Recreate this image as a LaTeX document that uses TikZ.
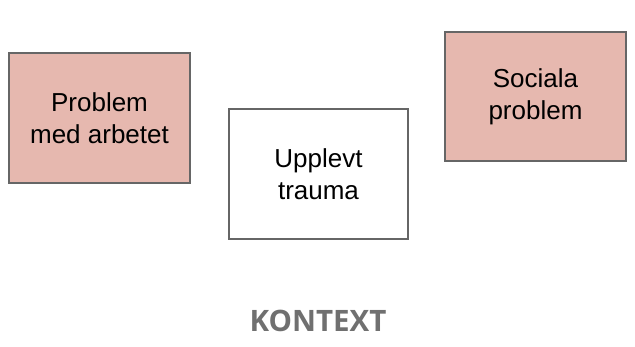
\documentclass[tikz,border=0pt]{standalone}
\usepackage{fontspec}
\setmainfont{Liberation Sans}
\newfontfamily\kfont{Open Sans}
\definecolor{boxfill}{HTML}{E6B8AF}
\definecolor{boxline}{HTML}{666666}
\definecolor{ktext}{HTML}{707070}
\begin{document}
\begin{tikzpicture}[x=1pt,y=-1pt,
  box/.style={draw=boxline,line width=1.5pt,inner sep=0pt,align=center,
    font=\fontsize{26}{32}\selectfont,text=black},
  redbox/.style={box,fill=boxfill}]
\useasboundingbox (0,0) rectangle (635,347);
\node[redbox,minimum width=181pt,minimum height=130pt] (arbete) at (99.5,118) {Problem\\med arbetet};
\node[box,fill=white,minimum width=179pt,minimum height=130pt] (trauma) at (318.5,174) {Upplevt\\trauma};
\node[redbox,minimum width=181pt,minimum height=129pt] (sociala) at (535.5,96.5) {Sociala\\problem};
\node[inner sep=0pt,font=\kfont\bfseries\fontsize{29.5}{32}\selectfont,text=ktext] (kontext) at (318,320.7) {KONTEXT};
\end{tikzpicture}
\end{document}
